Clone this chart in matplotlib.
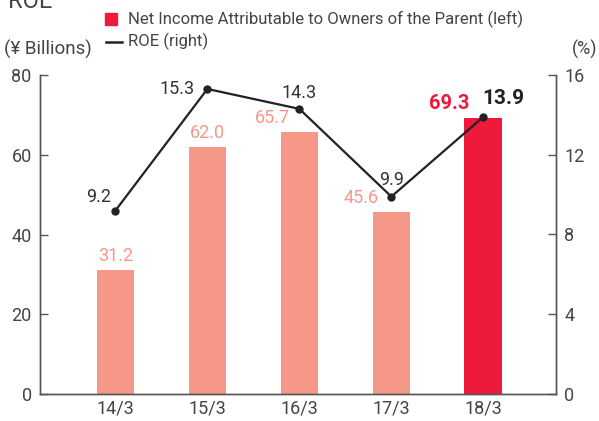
import matplotlib.pyplot as plt
from matplotlib.patches import Rectangle
from matplotlib.lines import Line2D

plt.rcParams['font.family'] = ['Roboto', 'DejaVu Sans']

years = ['14/3', '15/3', '16/3', '17/3', '18/3']
net_income = [31.2, 62.0, 65.7, 45.6, 69.3]
roe = [9.2, 15.3, 14.3, 9.9, 13.9]

light = '#F59888'
red = '#EE1A3C'
grey = '#444444'

fig = plt.figure(figsize=(5.99, 4.21), dpi=100)
ax = fig.add_axes([40 / 599, 1 - 394 / 421, 516 / 599, 319 / 421])
ax2 = ax.twinx()

x = range(len(years))
colors = [light] * 4 + [red]
ax.bar(x, net_income, width=0.41, color=colors, zorder=2)
ax.set_xlim(-0.82, 4.79)
ax.set_ylim(0, 80)
ax.set_yticks([0, 20, 40, 60, 80])
ax2.set_ylim(0, 16)
ax2.set_yticks([0, 4, 8, 12, 16])
ax.set_xticks(list(x))
ax.set_xticklabels(years)

for a in (ax, ax2):
    a.spines['top'].set_visible(False)
    for s in ('left', 'right', 'bottom'):
        a.spines[s].set_color('#555555')
        a.spines[s].set_linewidth(1.0)
    a.tick_params(axis='y', direction='in', length=6, width=1, color='#555555',
                  labelsize=13, labelcolor=grey, pad=6)
ax.tick_params(axis='x', length=0, labelsize=13, labelcolor=grey, pad=4)

ax2.plot(x, roe, color='#222222', lw=1.6, marker='o', ms=5, zorder=3)

# bar labels
bar_dx = [0, 0, -19.5, -21.5]
for i, v in enumerate(net_income[:4]):
    ax.annotate(f'{v:.1f}', (i, v), xytext=(bar_dx[i], 3.6), textcoords='offset points',
                ha='center', va='bottom', color=light, fontsize=13)
ax.annotate(f'{net_income[4]:.1f}', (4, net_income[4]), xytext=(-24.5, 3.6),
            textcoords='offset points', ha='center', va='bottom', color=red,
            fontsize=14.5, fontweight='bold')

# ROE labels
offsets = [(-12, 10), (-21.5, 0), (0, 11.5), (0, 12), (14.5, 13.5)]
for i, v in enumerate(roe):
    dx, dy = offsets[i]
    bold = i == 4
    ax2.annotate(f'{v:.1f}', (i, v), xytext=(dx, dy), textcoords='offset points',
                 ha='center', va='center', color='#222222' if bold else '#333333',
                 fontsize=15 if bold else 13,
                 fontweight='bold' if bold else 'normal')

# header texts
fig.text(8 / 599, 1 - 8 / 421, 'ROE', fontsize=17, color=grey, va='baseline')
fig.patches.append(Rectangle((105 / 599, 1 - 25 / 421), 12 / 599, 12 / 421,
                             transform=fig.transFigure, color=red))
fig.text(128 / 599, 1 - 19 / 421, 'Net Income Attributable to Owners of the Parent (left)',
         fontsize=12, color=grey, va='center')
fig.lines.append(Line2D([106 / 599, 122 / 599], [1 - 42 / 421, 1 - 42 / 421],
                        transform=fig.transFigure, color='#222222', lw=1.8))
fig.text(128 / 599, 1 - 41 / 421, 'ROE (right)', fontsize=12, color=grey, va='center')
fig.text(4 / 599, 1 - 49 / 421, '(¥ Billions)', fontsize=13.5, color=grey, va='center')
fig.text(597 / 599, 1 - 49 / 421, '(%)', fontsize=13, color=grey, va='center', ha='right')

fig.savefig('out.png', dpi=100)
